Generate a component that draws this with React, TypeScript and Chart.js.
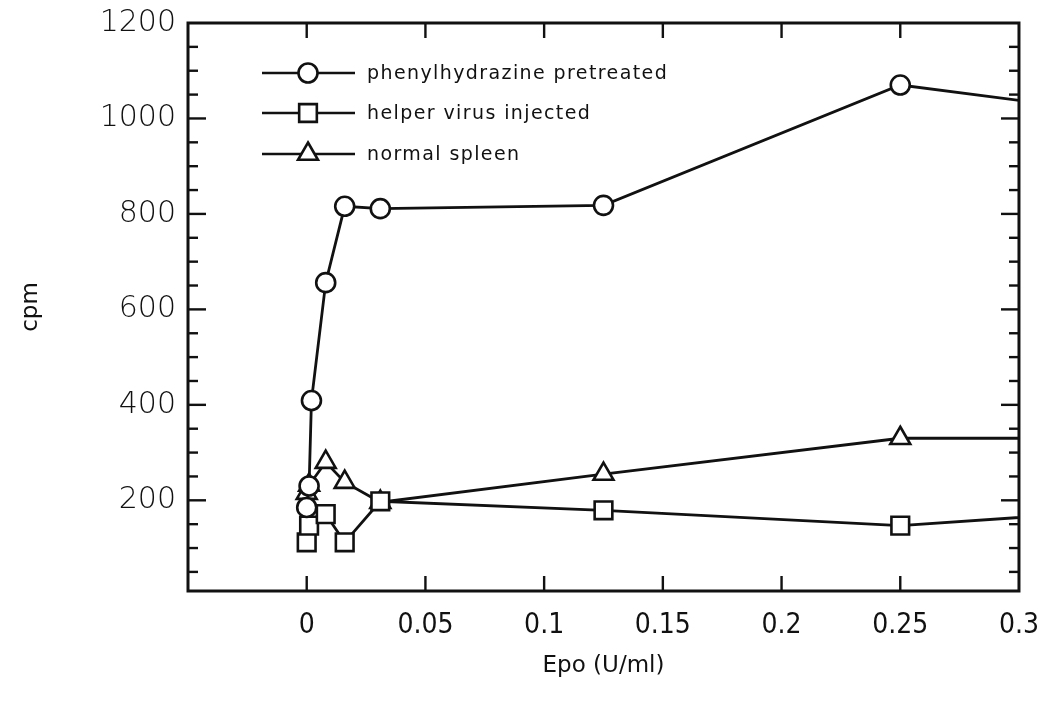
import { useEffect, useRef } from "react";
import { Chart, registerables } from "chart.js";

Chart.register(...registerables);

// ---- data ----
const seriesNames = ["phenylhydrazine pretreated", "helper virus injected", "normal spleen"];

const phenylX = [0, 0.001, 0.002, 0.008, 0.016, 0.031, 0.125, 0.25, 0.5];
const phenylY = [185, 230, 409, 656, 816, 811, 818, 1070, 910];

const helperX = [0, 0.001, 0.008, 0.016, 0.031, 0.125, 0.25, 0.5];
const helperY = [112, 147, 171, 112, 198, 179, 147, 232];

const normalX = [0, 0.001, 0.008, 0.016, 0.031, 0.125, 0.25, 0.5];
const normalY = [215, 232, 280, 238, 196, 255, 330, 330];

const xTicks = [0, 0.05, 0.1, 0.15, 0.2, 0.25, 0.3];
const yTicks = [200, 400, 600, 800, 1000, 1200];
const yMinorStep = 50;

const xTitle = "Epo (U/ml)";
const yTitle = "cpm";

const INK = "#111";
const pointStyles = ["circle", "rect", "triangle"] as const;
const pointRadii = [9.5, 12.5, 11.5];

function toPoints(xs: number[], ys: number[]) {
  return xs.map((x, i) => ({ x, y: ys[i] }));
}

function drawMarker(ctx: CanvasRenderingContext2D, style: string, x: number, y: number, r: number) {
  ctx.beginPath();
  if (style === "circle") {
    ctx.arc(x, y, r, 0, Math.PI * 2);
  } else if (style === "rect") {
    const s = Math.SQRT1_2 * r;
    ctx.rect(x - s, y - s, 2 * s, 2 * s);
  } else {
    for (let k = 0; k < 3; k++) {
      const a = (k * 2 * Math.PI) / 3;
      const px = x + Math.sin(a) * r;
      const py = y - Math.cos(a) * r;
      if (k === 0) ctx.moveTo(px, py);
      else ctx.lineTo(px, py);
    }
    ctx.closePath();
  }
  ctx.fillStyle = "#fff";
  ctx.fill();
  ctx.stroke();
}

const frameTicks = {
  id: "frameTicks",
  afterDatasetsDraw(chart: any) {
    const { ctx, chartArea: a, scales } = chart;
    ctx.save();
    ctx.strokeStyle = INK;
    ctx.lineWidth = 3;
    ctx.strokeRect(a.left, a.top, a.right - a.left, a.bottom - a.top);
    ctx.lineWidth = 2.4;
    const seg = (x1: number, y1: number, x2: number, y2: number) => {
      ctx.beginPath();
      ctx.moveTo(x1, y1);
      ctx.lineTo(x2, y2);
      ctx.stroke();
    };
    for (const v of xTicks) {
      const px = scales.x.getPixelForValue(v);
      if (px >= a.right - 2) continue;
      seg(px, a.bottom, px, a.bottom - 15);
      seg(px, a.top, px, a.top + 15);
    }
    const ymin = scales.y.min;
    const ymax = scales.y.max;
    for (let v = Math.ceil(ymin / yMinorStep) * yMinorStep; v < ymax; v += yMinorStep) {
      const py = scales.y.getPixelForValue(v);
      const len = yTicks.includes(v) ? 18 : 10;
      seg(a.left, py, a.left + len, py);
      seg(a.right, py, a.right - len, py);
    }
    ctx.restore();
  },
};

const legendPlugin = {
  id: "innerLegend",
  afterDraw(chart: any) {
    const { ctx } = chart;
    ctx.save();
    const rows = [73, 113, 154];
    ctx.strokeStyle = INK;
    ctx.lineWidth = 2.6;
    rows.forEach((y, i) => {
      ctx.beginPath();
      ctx.moveTo(262, y);
      ctx.lineTo(355, y);
      ctx.stroke();
      drawMarker(ctx, pointStyles[i], 308, y, pointRadii[i]);
      ctx.fillStyle = INK;
      ctx.font = "19px 'DejaVu Sans'";
      (ctx as any).letterSpacing = "1.4px";
      ctx.textBaseline = "middle";
      ctx.textAlign = "left";
      ctx.fillText(seriesNames[i], 367, y + 1);
      (ctx as any).letterSpacing = "0px";
    });
    ctx.restore();
  },
};

export default function App() {
  const ref = useRef<HTMLCanvasElement>(null);

  useEffect(() => {
    const canvas = ref.current!;
    const xs = [phenylX, helperX, normalX];
    const ys = [phenylY, helperY, normalY];
    const chart = new Chart(canvas, {
      type: "line",
      data: {
        datasets: seriesNames.map((name, i) => ({
          label: name,
          data: toPoints(xs[i], ys[i]),
          borderColor: INK,
          borderWidth: 2.8,
          pointStyle: pointStyles[i],
          pointRadius: pointRadii[i],
          pointBorderWidth: 2.6,
          pointBackgroundColor: "#fff",
          pointBorderColor: INK,
          tension: 0,
          clip: 0,
        })),
      },
      options: {
        responsive: false,
        animation: false,
        devicePixelRatio: 1,
        events: [],
        layout: { padding: { top: 23, right: 30, left: 0, bottom: 0 } },
        plugins: {
          legend: { display: false },
          tooltip: { enabled: false },
        },
        scales: {
          x: {
            type: "linear",
            min: -0.05,
            max: 0.3,
            afterBuildTicks: (s: any) => {
              s.ticks = xTicks.map((v) => ({ value: v }));
            },
            afterFit: (s: any) => {
              s.height = 118;
            },
            grid: { display: false },
            border: { display: false },
            ticks: {
              autoSkip: false,
              maxRotation: 0,
              padding: 10,
              color: INK,
              font: { family: "'DejaVu Sans Condensed', 'DejaVu Sans'", size: 28, weight: "200" as any },
              callback: (v: any) => String(Number(Number(v).toFixed(2))),
            },
            title: {
              display: true,
              text: xTitle,
              color: INK,
              font: { family: "'DejaVu Sans'", size: 23 },
              padding: { top: 0, bottom: 29 },
            },
          },
          y: {
            type: "linear",
            min: 10,
            max: 1200,
            afterBuildTicks: (s: any) => {
              s.ticks = yTicks.map((v) => ({ value: v }));
            },
            afterFit: (s: any) => {
              s.width = 188;
            },
            grid: { display: false },
            border: { display: false },
            ticks: {
              padding: 4,
              color: INK,
              font: { family: "'DejaVu Sans'", size: 30, weight: "200" as any },
              callback: (v: any) => String(v),
            },
            title: {
              display: true,
              text: yTitle,
              color: INK,
              font: { family: "'DejaVu Sans'", size: 23 },
              padding: { top: 17, bottom: 0 },
            },
          },
        },
      },
      plugins: [frameTicks, legendPlugin],
    });
    return () => chart.destroy();
  }, []);

  return (
    <canvas
      ref={ref}
      width={1049}
      height={709}
      style={{ position: "fixed", left: 0, top: 0, width: 1049, height: 709, background: "#fff" }}
    />
  );
}
